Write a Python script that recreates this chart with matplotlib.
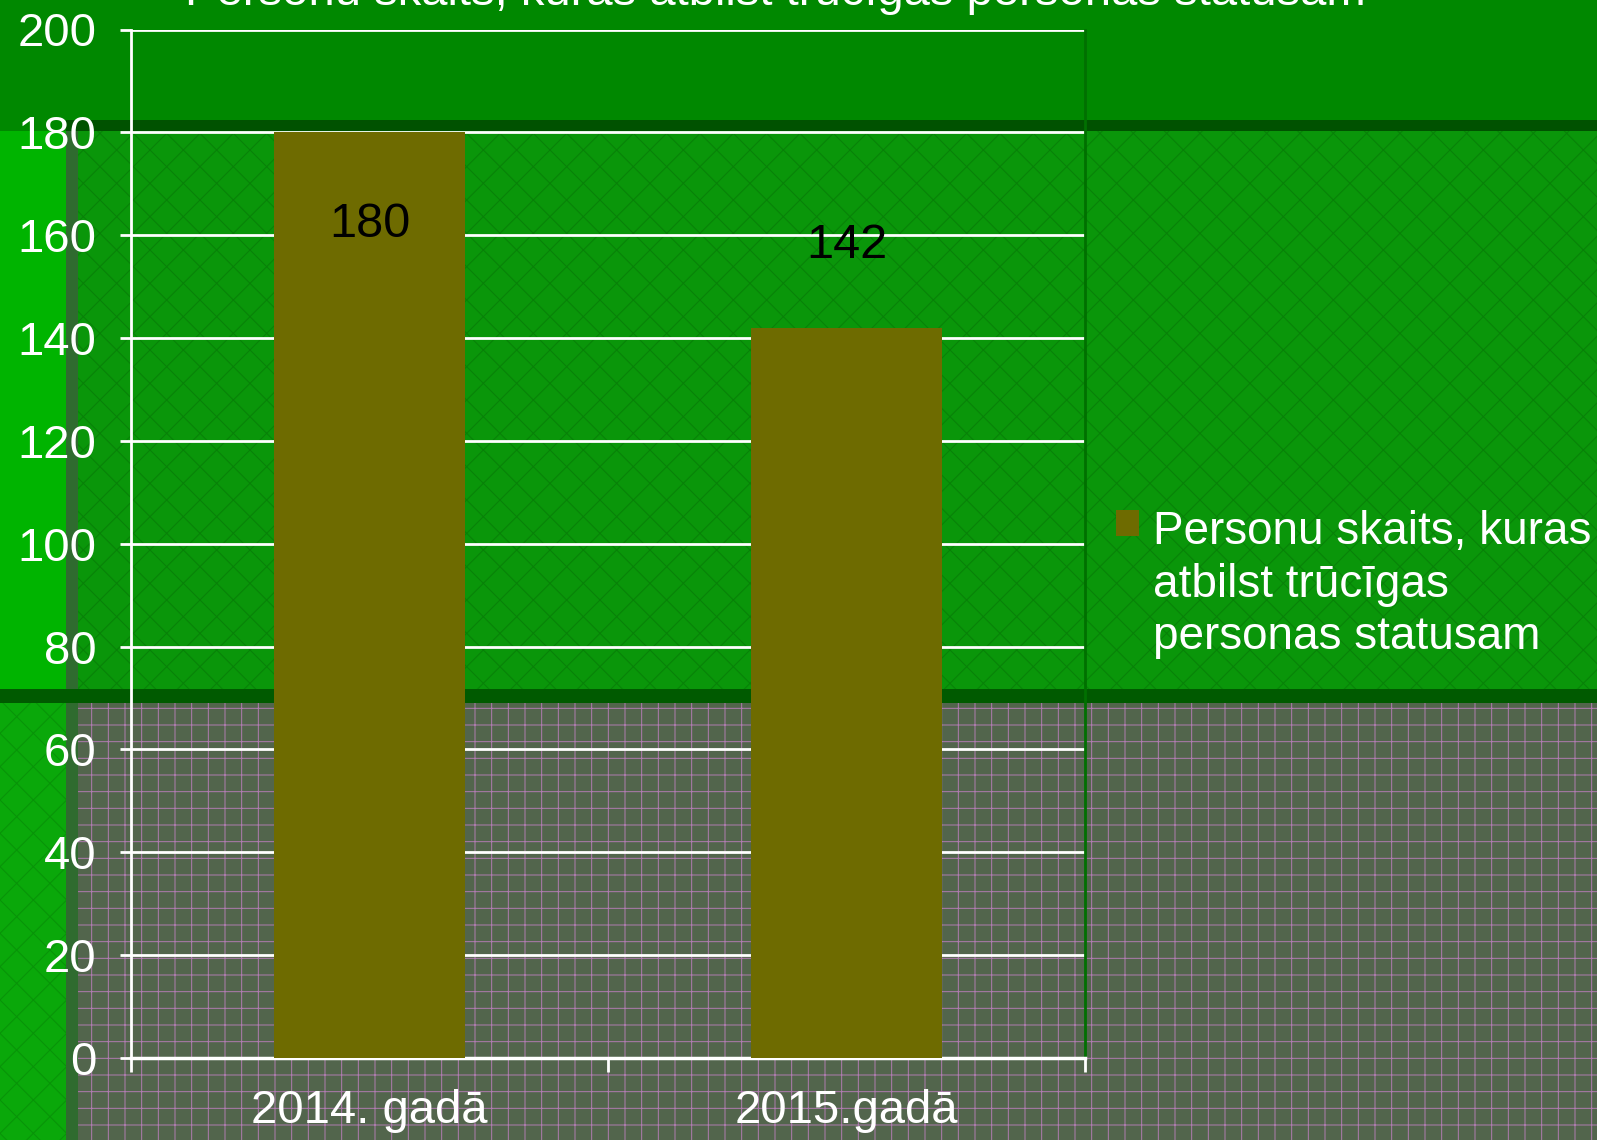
import matplotlib
matplotlib.use("Agg")
import matplotlib.pyplot as plt
from matplotlib.patches import Rectangle

# ---- data ----
categories = ["2014. gadā", "2015.gadā"]
values = [180, 142]
series_name = "Personu skaits, kuras\natbilst trūcīgas\npersonas statusam"
title = "Personu skaits, kuras atbilst trūcīgas personas statusam"
yticks = [0, 20, 40, 60, 80, 100, 120, 140, 160, 180, 200]

W, H = 1597, 1140
plt.rcParams['font.family'] = ['Liberation Sans', 'DejaVu Sans']
plt.rcParams['hatch.linewidth'] = 0.7

fig = plt.figure(figsize=(W / 100, H / 100), dpi=100)
fig.patch.set_facecolor('#008800')


def bg(x0, y0, x1, y1, color, hatch=None, hcolor=None, z=-10):
    r = Rectangle((x0 / W, 1 - y1 / H), (x1 - x0) / W, (y1 - y0) / H,
                  transform=fig.transFigure, facecolor=color, edgecolor=hcolor if hcolor else 'none',
                  linewidth=0, hatch=hatch, zorder=z)
    fig.patches.append(r)


# slide background
bg(78, 131, W, 690, '#0a960a', hatch='x', hcolor='#088008')
bg(0, 131, 66, 690, '#00b400')
bg(66, 123, 78, H, '#2f6b2f')
bg(66, 120, W, 131, '#005200')
bg(78, 703, W, H, '#52654c', hatch='+', hcolor='#b07cb0')
bg(0, 703, 66, H, '#0aa80a', hatch='x', hcolor='#089208')
bg(0, 689, W, 703, '#005a00')

ax = fig.add_axes([131 / W, 1 - 1058 / H, (1085 - 131) / W, (1058 - 29.5) / H])
ax.set_facecolor('none')
ax.set_zorder(1)

x = list(range(len(categories)))
bars = ax.bar(x, values, width=0.4, color='#6e6b00', label=series_name, zorder=3)

ax.set_xlim(-0.5, 1.5)
ax.set_ylim(0, 200)
ax.set_yticks(yticks)
ax.set_yticklabels([str(t) for t in yticks])
ax.set_xticks(x)
ax.set_xticklabels(categories)
ax.set_xticks([-0.5, 0.5, 1.5], minor=True)
ax.tick_params(axis='x', which='major', length=0, pad=22, labelsize=34, labelcolor='white')
ax.tick_params(axis='x', which='minor', length=10, width=2, color='white', direction='out')
ax.tick_params(axis='y', length=8, width=2, color='white', pad=17, labelsize=34, labelcolor='white')

ax.grid(axis='y', color='white', linewidth=2, zorder=1)
ax.set_axisbelow(True)
ax.spines['top'].set_visible(False)
ax.spines['right'].set_color('#007000')
ax.spines['right'].set_linewidth(2)
ax.spines['left'].set_color('white')
ax.spines['left'].set_linewidth(2)
ax.spines['bottom'].set_color('white')
ax.spines['bottom'].set_linewidth(2.5)

# data labels (positions as rendered in the original)
ax.text(0, values[0] - 18, str(values[0]), ha='center', va='center', fontsize=35, color='black', zorder=4)
ax.text(1, values[1] + 16, str(values[1]), ha='center', va='center', fontsize=35, color='black', zorder=4)

# title (cut off at the top edge)
fig.text(775 / W, 1 - 5 / H, title, ha='center', va='baseline', fontsize=34, color='white')

leg = fig.legend(handles=[bars], labels=[series_name], loc='upper left',
                 bbox_to_anchor=(1116 / W, 1 - 510 / H), frameon=False,
                 fontsize=33, labelcolor='white', handlelength=0.5, handleheight=0.5,
                 handletextpad=0.3, borderpad=0, borderaxespad=0)
for t in leg.get_texts():
    t.set_linespacing(1.25)
try:
    for col in leg._legend_handle_box.get_children():
        for hp in col.get_children():
            hp.align = 'top'
except Exception:
    pass

fig.savefig('out.png', dpi=100, facecolor=fig.get_facecolor())
